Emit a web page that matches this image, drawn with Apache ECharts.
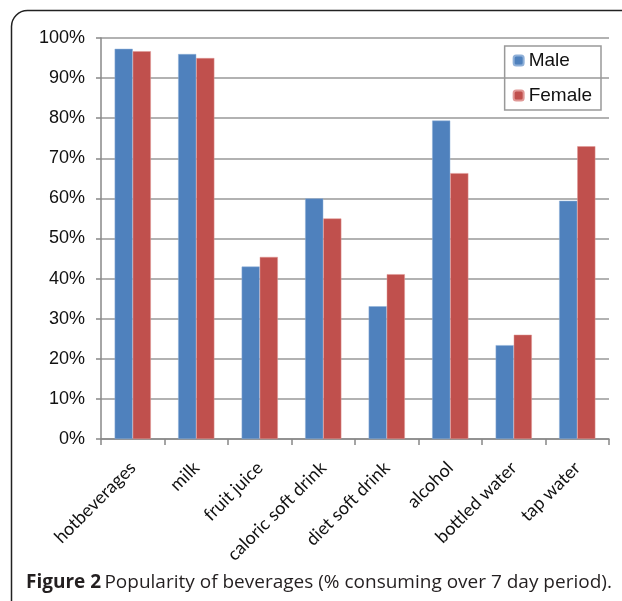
<!DOCTYPE html>
<html>
<head>
<meta charset="utf-8">
<script src="https://cdn.jsdelivr.net/npm/echarts@6/dist/echarts.min.js"></script>
<style>
	html, body { margin: 0; padding: 0; background: #fff; }
	#chart { width: 622px; height: 601px; }
</style>
</head>
<body>
<div id="chart"></div>
<script>
// beverage categories and % consuming in 7 days
var categories = ['hotbeverages', 'milk', 'fruit juice', 'caloric soft drink', 'diet soft drink', 'alcohol', 'bottled water', 'tap water'];
var maleValues = [97.3, 96.0, 43.0, 60.0, 33.1, 79.4, 23.4, 59.4];
var femaleValues = [96.7, 95.0, 45.4, 55.0, 41.1, 66.3, 26.0, 73.0];
var yTicks = [0, 10, 20, 30, 40, 50, 60, 70, 80, 90, 100];

var chart = echarts.init(document.getElementById('chart'), null, { renderer: 'canvas' });

chart.setOption({
	animation: false,
	backgroundColor: '#fff',
	grid: {
		left: 101,
		right: 13,
		top: 38,
		bottom: 162
	},
	legend: {
		orient: 'vertical',
		right: 21,
		top: 46,
		padding: [5, 9, 5, 8],
		itemWidth: 10,
		itemHeight: 10,
		itemGap: 16,
		borderColor: '#999',
		borderWidth: 1.5,
		selectedMode: false,
		textStyle: {
			fontFamily: 'Liberation Sans',
			fontSize: 19,
			color: '#111'
		},
		data: ['Male', 'Female']
	},
	xAxis: {
		type: 'category',
		data: categories,
		axisLine: { lineStyle: { color: '#888', width: 1.5 } },
		axisTick: { show: true, length: 6, alignWithLabel: false, lineStyle: { color: '#888', width: 1.5 } },
		axisLabel: {
			rotate: 45,
			interval: 0,
			margin: 26,
			fontFamily: 'Lato',
			fontSize: 18,
			color: '#111'
		}
	},
	yAxis: {
		type: 'value',
		min: yTicks[0],
		max: yTicks[yTicks.length - 1],
		interval: 10,
		axisLine: { show: true, lineStyle: { color: '#888', width: 1.5 } },
		axisTick: { show: true, length: 5, lineStyle: { color: '#888', width: 1.5 } },
		splitLine: { lineStyle: { color: '#999', width: 1.5 } },
		axisLabel: {
			margin: 16,
			formatter: '{value}%',
			fontFamily: 'Liberation Sans',
			fontSize: 18,
			color: '#111'
		}
	},
	series: [
		{
			name: 'Male',
			type: 'bar',
			data: maleValues,
			barGap: '0%',
			barCategoryGap: '43%',
			itemStyle: { color: '#4F81BD', borderColor: '#8fb0d8', borderWidth: 0.5 }
		},
		{
			name: 'Female',
			type: 'bar',
			data: femaleValues,
			itemStyle: { color: '#C0504D', borderColor: '#e09896', borderWidth: 0.5 }
		}
	],
	graphic: [
		{
			type: 'rect',
			shape: { x: 11.5, y: 10.5, width: 700, height: 700, r: 16 },
			style: { fill: 'none', stroke: '#222', lineWidth: 1.5 },
			silent: true
		},
		{
			type: 'text',
			left: 26,
			top: 573,
			style: {
				text: '{b|Figure 2} {n|Popularity of beverages (% consuming over 7 day period).}',
				rich: {
					b: { fontFamily: 'Open Sans', fontWeight: 'bold', fontSize: 19, fill: '#231f20', color: '#231f20' },
					n: { fontFamily: 'Open Sans', fontSize: 19, fill: '#231f20', color: '#231f20' }
				}
			}
		}
	]
});
</script>
</body>
</html>
